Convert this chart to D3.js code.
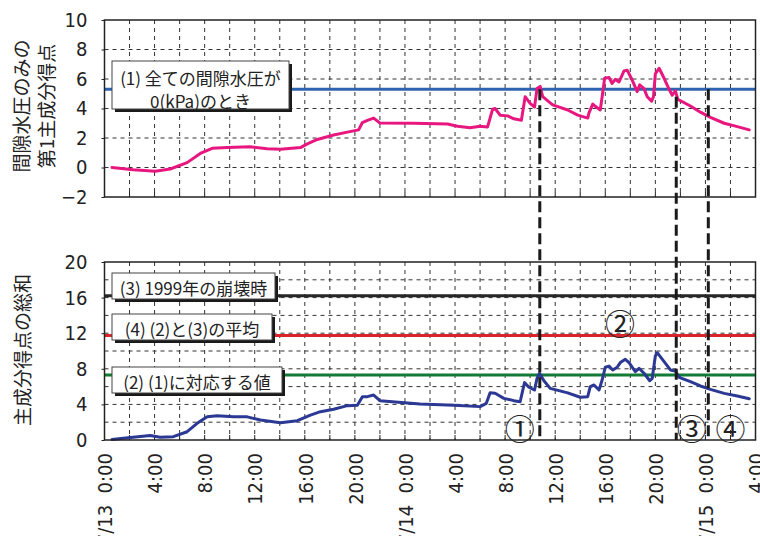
<!DOCTYPE html>
<html>
<head>
<meta charset="utf-8">
<script src="https://cdn.jsdelivr.net/npm/d3@7"></script>
<style>
  html, body { margin: 0; padding: 0; background: #fff; }
  svg { display: block; }
</style>
</head>
<body>
<svg id="chart" width="760" height="536"></svg>
<script>
// Elapsed hours since 7/13 0:00 and first principal component score (pore water pressure only)
const pcTimes = [0.6, 2.3, 4.05, 5.25, 6.6, 7.65, 8.6, 9.8, 11.65, 13.0, 14.05, 15.65, 16.2, 17.0,
  18.3, 19.4, 20.3, 20.6, 21.0, 21.5, 22.0, 24.7, 27.4, 28.2, 29.2, 30.0, 30.6, 31.0, 31.2, 31.6,
  32.2, 32.7, 33.3, 33.6, 34.0, 34.35, 34.55, 34.8, 35.0, 35.8, 37.0, 37.8, 38.6, 38.7, 39.0, 39.2,
  39.6, 39.75, 39.95, 40.3, 40.55, 40.8, 41.1, 41.5, 41.75, 42.15, 42.55, 42.75, 43.1, 43.35, 43.7,
  43.85, 44.0, 44.3, 44.7, 45.1, 45.35, 45.6, 45.8, 46.8, 47.6, 48.4, 49.5, 50.55, 51.5];
const pcScores = [0.0, -0.15, -0.25, -0.1, 0.33, 0.95, 1.3, 1.35, 1.4, 1.27, 1.23, 1.35, 1.6, 1.9,
  2.2, 2.4, 2.55, 3.05, 3.2, 3.35, 3.02, 3.0, 2.95, 2.8, 2.7, 2.8, 2.75, 3.95, 4.0, 3.55,
  3.5, 3.3, 3.2, 4.8, 4.35, 4.1, 5.35, 5.5, 4.8, 4.25, 3.9, 3.55, 3.35, 3.7, 4.3, 4.15,
  3.9, 4.8, 6.05, 6.1, 5.7, 5.98, 5.8, 6.55, 6.6, 5.93, 5.15, 5.6, 5.35, 4.8, 4.5,
  4.8, 6.35, 6.73, 6.05, 5.3, 4.9, 5.2, 4.62, 4.17, 3.75, 3.4, 3.0, 2.77, 2.55];

// Sum of principal component scores
const sumTimes = [0.6, 1.5, 3.65, 4.45, 5.5, 6.6, 7.4, 8.2, 9.0, 10.3, 11.4, 12.45, 14.05, 15.4,
  16.45, 17.25, 18.3, 19.4, 20.2, 20.6, 21.0, 21.5, 22.0, 25.2, 27.9, 30.0, 30.5, 30.8, 31.2, 31.9,
  32.7, 33.2, 33.55, 33.9, 34.35, 34.55, 34.75, 35.1, 35.6, 37.0, 38.0, 38.6, 38.8, 39.1, 39.5,
  39.75, 40.0, 40.3, 40.6, 40.95, 41.2, 41.6, 41.9, 42.4, 42.7, 43.1, 43.55, 43.75, 44.0, 44.15,
  44.7, 45.2, 45.6, 45.9, 46.8, 47.6, 48.4, 49.5, 50.55, 51.5];
const sumScores = [0.05, 0.2, 0.5, 0.3, 0.37, 0.93, 1.87, 2.62, 2.73, 2.62, 2.6, 2.25, 1.95, 2.17,
  2.8, 3.18, 3.45, 3.86, 3.9, 4.87, 4.87, 5.05, 4.42, 4.05, 3.9, 3.75, 4.12, 5.3, 5.25, 4.68,
  4.42, 4.3, 6.45, 5.93, 5.62, 6.93, 7.5, 6.66, 5.8, 5.3, 4.8, 4.87, 6.0, 6.18, 5.62,
  6.74, 8.17, 8.3, 7.87, 8.17, 8.7, 9.07, 8.7, 7.67, 8.05, 7.5, 6.66, 6.93, 9.44, 9.81,
  8.8, 7.87, 7.75, 7.04, 6.55, 6.07, 5.69, 5.24, 4.94, 4.64];

// Reference levels
const pcThreshold = 5.3;                         // (1) all pore water pressures at 0 kPa
const refNames = ["(3) 1999年の崩壊時", "(4) (2)と(3)の平均", "(2) (1)に対応する値"];
const refValues = [16.2, 11.75, 7.3];

// Axis ticks and labels
const pcTicks = [-2, 0, 2, 4, 6, 8, 10];
const sumTicks = [0, 4, 8, 12, 16, 20];
const timeTicks = [0, 4, 8, 12, 16, 20, 24, 28, 32, 36, 40, 44, 48, 52];
const timeLabels = ["7/13\u00a0\u00a00:00", "4:00", "8:00", "12:00", "16:00", "20:00",
  "7/14\u00a0\u00a00:00", "4:00", "8:00", "12:00", "16:00", "20:00", "7/15\u00a0\u00a00:00", "4:00"];

// Event markers (time in hours, level where the marker starts in the upper panel)
const markerTimes = [34.77, 45.67, 48.23];
const markerTopValues = [5.3, 4.8, 5.3];
const circleNames = ["①", "②", "③", "④"];
const circleTimes = [33.17, 41.17, 46.9, 50.0];
const circleValues = [1.5, 13.3, 1.5, 1.5];

const NUM_FONT = "'Liberation Sans Narrow', 'Arial Narrow', 'DejaVu Sans Condensed', sans-serif";
const JP_FONT = "'Noto Sans CJK JP', 'Noto Sans', sans-serif";

const svg = d3.select("#chart");
svg.append("rect").attr("width", 760).attr("height", 536).attr("fill", "#fff");

const x = d3.scaleLinear().domain([0, 52]).range([104.5, 755.5]);
const yTop = d3.scaleLinear().domain([-2, 10]).range([197, 20]);
const yBot = d3.scaleLinear().domain([0, 20]).range([440, 262]);

const gridHours = d3.range(2, 52, 2);

function panel(y, gridVals, ticks) {
  const g = svg.append("g");
  // dashed grid
  g.selectAll("line.h").data(gridVals).join("line")
    .attr("x1", x(0)).attr("x2", x(52))
    .attr("y1", d => y(d)).attr("y2", d => y(d))
    .attr("stroke", "#333").attr("stroke-width", 1).attr("stroke-dasharray", "4,4");
  g.selectAll("line.v").data(gridHours).join("line")
    .attr("x1", d => x(d)).attr("x2", d => x(d))
    .attr("y1", y.range()[1]).attr("y2", y.range()[0])
    .attr("stroke", "#333").attr("stroke-width", 1).attr("stroke-dasharray", "4,4");
  // left axis labels
  const ax = g.append("g").attr("transform", `translate(${x(0)},0)`)
    .call(d3.axisLeft(y).tickValues(ticks).tickSize(3).tickPadding(14)
      .tickFormat(d => d < 0 ? "\u2212" + Math.abs(d) : String(d)));
  ax.select(".domain").remove();
  ax.selectAll("line").attr("stroke", "#222");
  ax.selectAll("text").attr("font-family", NUM_FONT).attr("font-size", 20).attr("fill", "#222");
  // inner ticks along the bottom edge
  g.selectAll("line.t").data(gridHours).join("line")
    .attr("x1", d => x(d)).attr("x2", d => x(d))
    .attr("y1", y.range()[0]).attr("y2", y.range()[0] - 5)
    .attr("stroke", "#222").attr("stroke-width", 1);
  return g;
}

const topG = panel(yTop, [0, 2, 4, 6, 8], pcTicks);
const botG = panel(yBot, [2, 4, 6, 8, 10, 12, 14, 16, 18], sumTicks);

// Reference lines
topG.append("line")
  .attr("x1", x(0)).attr("x2", x(52)).attr("y1", yTop(pcThreshold)).attr("y2", yTop(pcThreshold))
  .attr("stroke", "#2e63b0").attr("stroke-width", 3);
const refColors = ["#262626", "#d7252b", "#137a35"];
botG.selectAll("line.ref").data(refValues).join("line")
  .attr("x1", x(0)).attr("x2", x(52)).attr("y1", d => yBot(d)).attr("y2", d => yBot(d))
  .attr("stroke", (d, i) => refColors[i]).attr("stroke-width", 3);

// Data lines
const pcLine = d3.line().x(d => x(d[0])).y(d => yTop(d[1]));
topG.append("path").datum(d3.zip(pcTimes, pcScores))
  .attr("d", pcLine).attr("fill", "none").attr("stroke", "#e8177f").attr("stroke-width", 3)
  .attr("stroke-linejoin", "round").attr("stroke-linecap", "round");
const sumLine = d3.line().x(d => x(d[0])).y(d => yBot(d[1]));
botG.append("path").datum(d3.zip(sumTimes, sumScores))
  .attr("d", sumLine).attr("fill", "none").attr("stroke", "#2b3894").attr("stroke-width", 3)
  .attr("stroke-linejoin", "round").attr("stroke-linecap", "round");

// Frames
[yTop, yBot].forEach(y => {
  svg.append("rect")
    .attr("x", x(0)).attr("y", y.range()[1])
    .attr("width", x(52) - x(0)).attr("height", y.range()[0] - y.range()[1])
    .attr("fill", "none").attr("stroke", "#222").attr("stroke-width", 1.5);
});

// Event markers
svg.selectAll("line.marker").data(d3.zip(markerTimes, markerTopValues)).join("line")
  .attr("x1", d => x(d[0])).attr("x2", d => x(d[0]))
  .attr("y1", d => yTop(d[1])).attr("y2", yBot(0))
  .attr("stroke", "#1a1a1a").attr("stroke-width", 3).attr("stroke-dasharray", "11,5");

svg.selectAll("text.circ").data(d3.zip(circleNames, circleTimes, circleValues)).join("text")
  .attr("x", d => x(d[1])).attr("y", d => yBot(d[2]))
  .attr("text-anchor", "middle").attr("dominant-baseline", "central")
  .attr("font-family", JP_FONT).attr("font-size", 30).attr("fill", "#222")
  .text(d => d[0]);

// Annotation boxes
function box(bx, by, bw, bh, lines, lineYs) {
  const g = svg.append("g");
  g.append("rect").attr("x", bx + 3).attr("y", by + 3).attr("width", bw).attr("height", bh).attr("fill", "#1a1a1a");
  g.append("rect").attr("x", bx).attr("y", by).attr("width", bw).attr("height", bh)
    .attr("fill", "#fff").attr("stroke", "#444").attr("stroke-width", 1);
  lines.forEach((t, i) => {
    g.append("text").attr("x", bx + bw / 2).attr("y", lineYs[i])
      .attr("text-anchor", "middle").attr("dominant-baseline", "central")
      .attr("font-family", JP_FONT).attr("font-size", 17).attr("fill", "#222")
      .style("white-space", "pre").text(t);
  });
}
box(112, 61, 177, 48, ["(1) 全ての間隙水圧が", "0(kPa)のとき"], [77, 100]);
box(112, 273, 163, 26, [refNames[0]], [287]);
box(112, 314, 160, 26, [refNames[1]], [328]);
box(112, 367, 170, 26, [refNames[2]], [381]);

// Time axis labels
const xa = svg.append("g").attr("transform", `translate(0,${yBot(0)})`)
  .call(d3.axisBottom(x).tickValues(timeTicks).tickSize(0).tickFormat((d, i) => timeLabels[i]));
xa.select(".domain").remove();
xa.selectAll("text")
  .attr("transform", "rotate(-90)")
  .attr("x", -13).attr("y", 0).attr("dy", "0.36em")
  .attr("text-anchor", "end")
  .attr("font-family", NUM_FONT).attr("font-size", 20).attr("fill", "#222");

// Axis titles
function vtitle(cx, cy, t) {
  svg.append("text").attr("transform", `translate(${cx},${cy}) rotate(-90)`)
    .attr("text-anchor", "middle").attr("dominant-baseline", "central")
    .attr("font-family", JP_FONT).attr("font-size", 19).attr("fill", "#222").text(t);
}
vtitle(20, 106, "間隙水圧のみの");
vtitle(45, 106, "第1主成分得点");
vtitle(21, 350, "主成分得点の総和");
</script>
</body>
</html>
